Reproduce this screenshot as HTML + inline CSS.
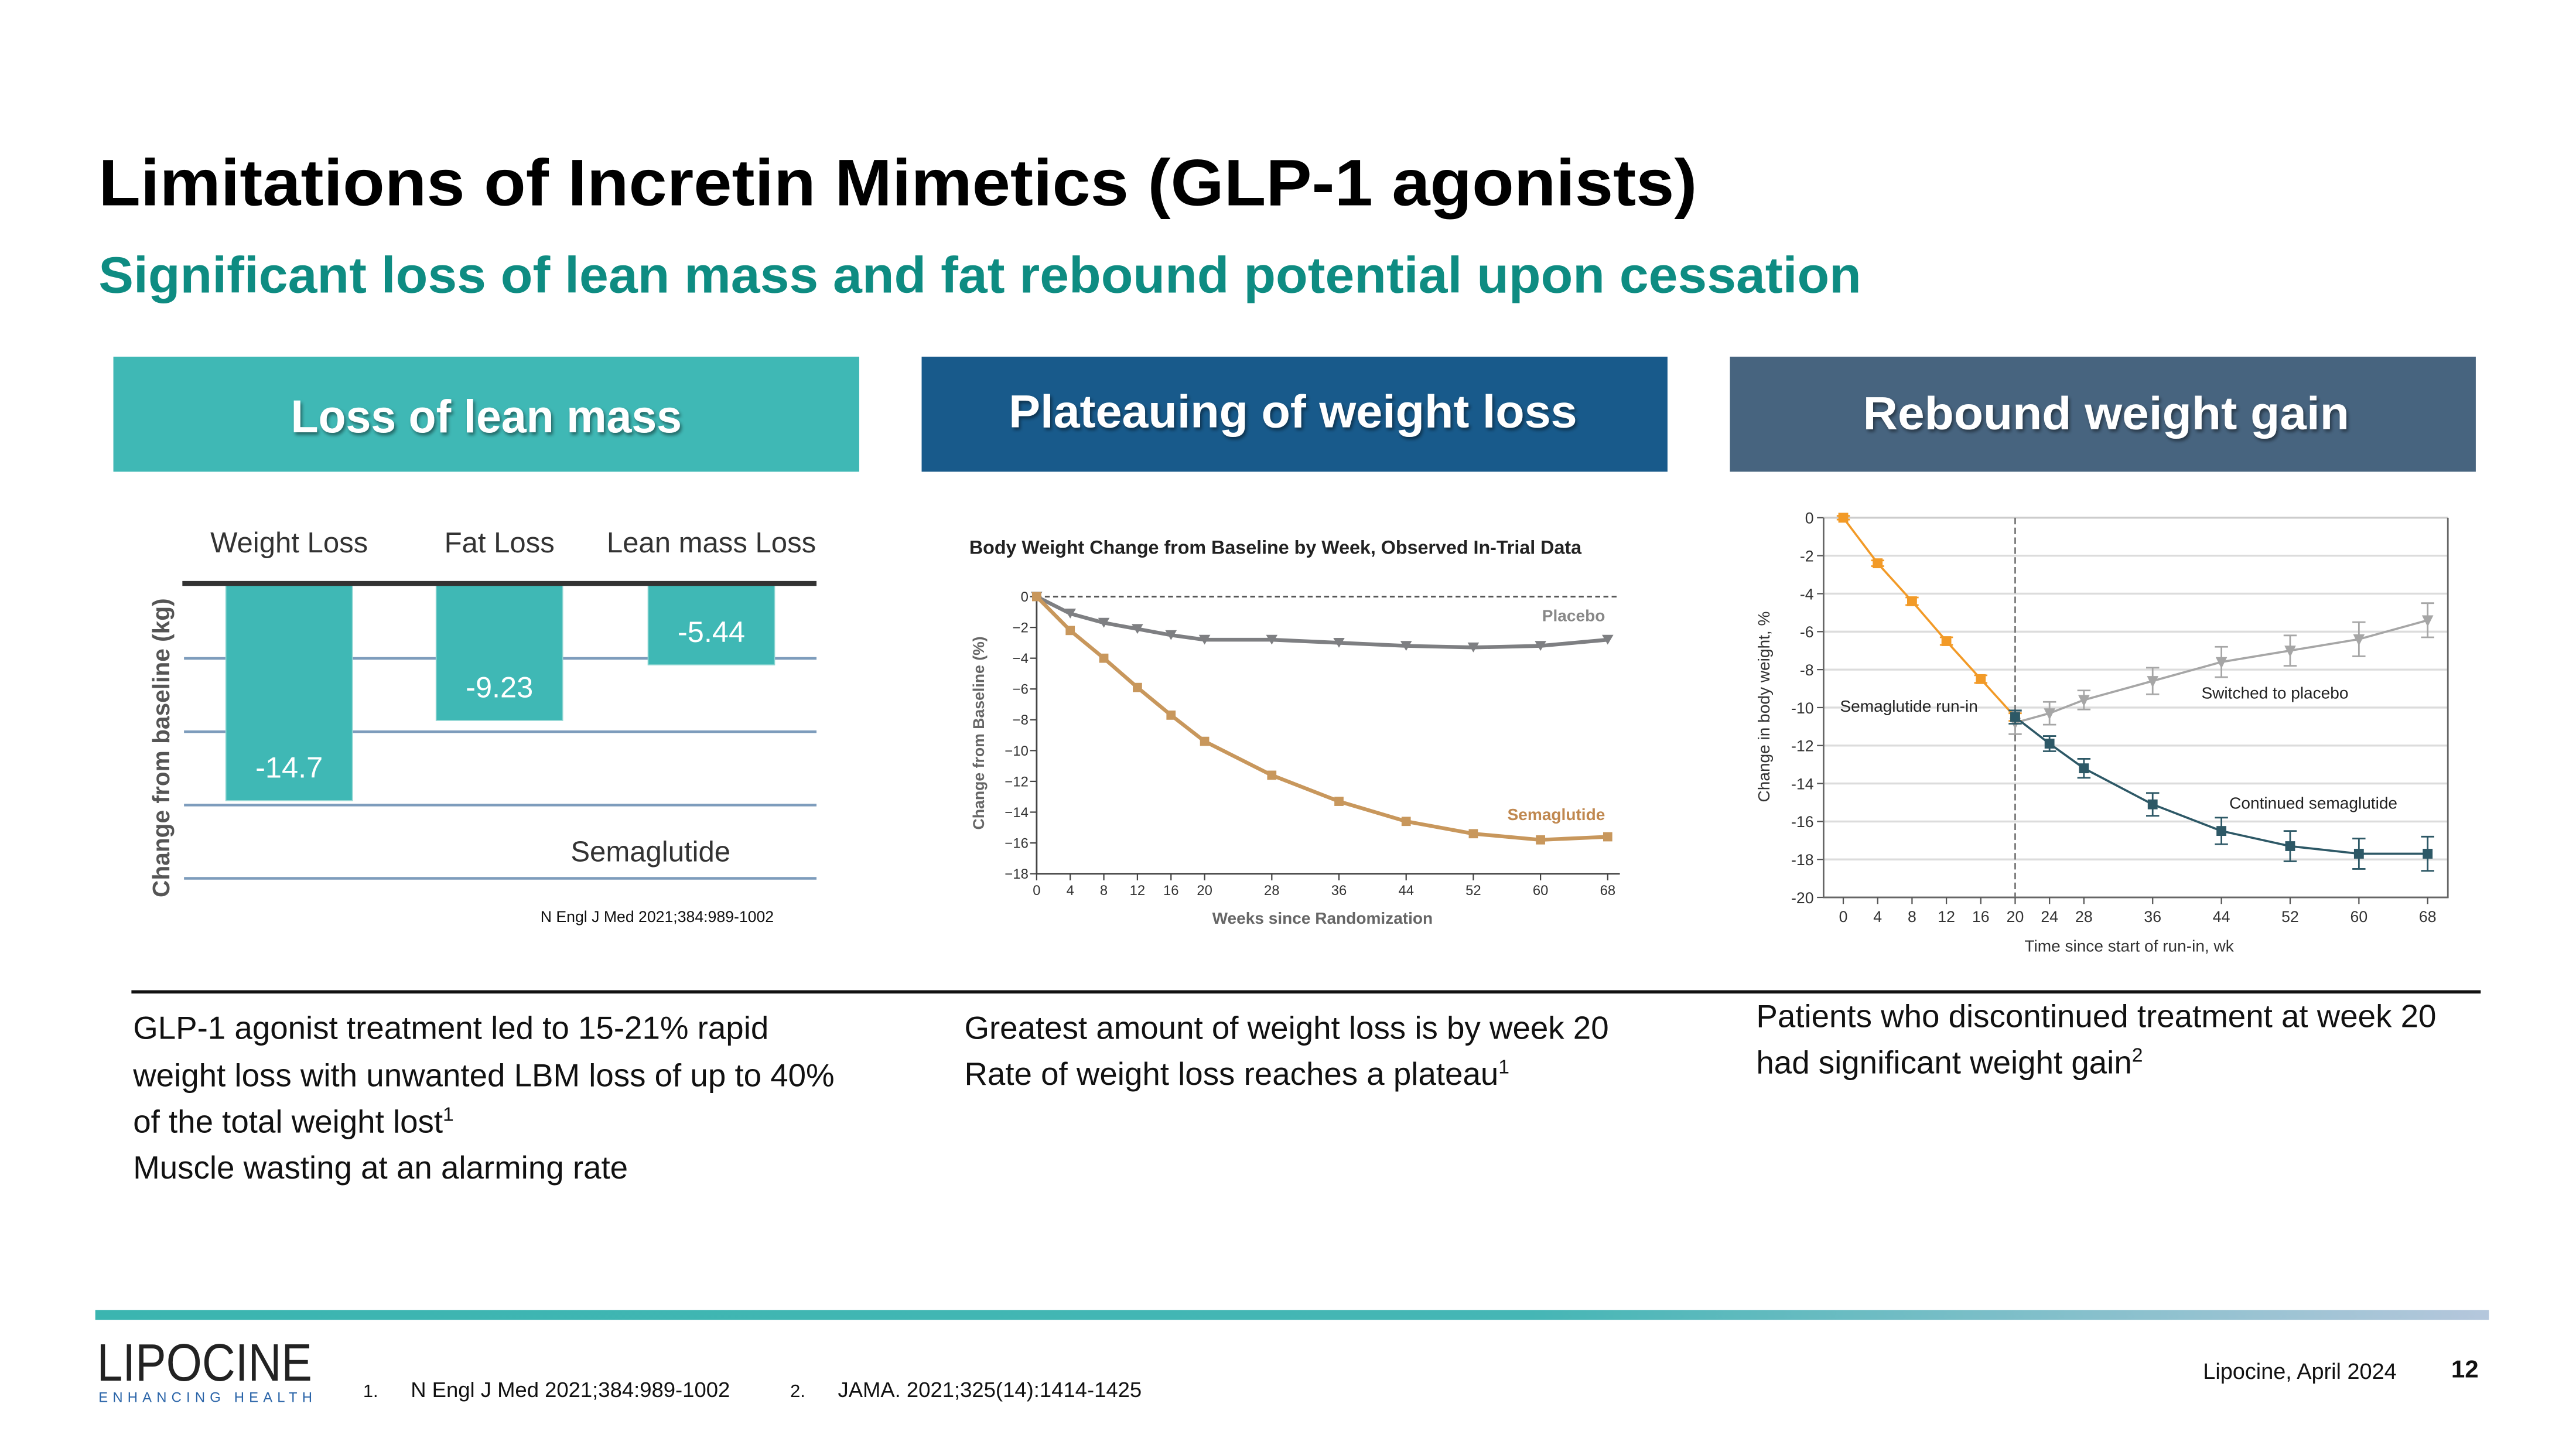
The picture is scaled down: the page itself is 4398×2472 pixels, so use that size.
<!DOCTYPE html>
<html><head><meta charset="utf-8">
<style>
html,body{margin:0;padding:0;background:#fff;}
svg{display:block;font-family:"Liberation Sans",sans-serif;}
</style></head>
<body>
<svg id="slide" width="4398" height="2472" viewBox="0 0 1568 881" preserveAspectRatio="none" xmlns="http://www.w3.org/2000/svg">
<defs>
<linearGradient id="fbar" x1="0" x2="1" y1="0" y2="0"><stop offset="0" stop-color="#3bb5b0"/><stop offset="0.6" stop-color="#45b6b5"/><stop offset="1" stop-color="#b5c7dc"/></linearGradient>
<filter id="sh" x="-5%" y="-20%" width="110%" height="140%"><feDropShadow dx="1" dy="1.5" stdDeviation="1" flood-color="#000" flood-opacity="0.45"/></filter>
</defs>
<text x="60" y="125" font-size="40" font-weight="bold" fill="#000" textLength="973" lengthAdjust="spacingAndGlyphs">Limitations of Incretin Mimetics (GLP-1 agonists)</text>
<text x="60" y="178" font-size="31" font-weight="bold" fill="#0e8c82" textLength="1073" lengthAdjust="spacingAndGlyphs">Significant loss of lean mass and fat rebound potential upon cessation</text>

<rect x="69" y="217" width="454" height="70" fill="#3fb8b5"/>
<text x="296" y="263" font-size="28" font-weight="bold" fill="#fff" text-anchor="middle" filter="url(#sh)" textLength="238" lengthAdjust="spacingAndGlyphs">Loss of lean mass</text>
<rect x="561" y="217" width="454" height="70" fill="#185a8b"/>
<text x="787" y="260" font-size="28" font-weight="bold" fill="#fff" text-anchor="middle" filter="url(#sh)" textLength="346" lengthAdjust="spacingAndGlyphs">Plateauing of weight loss</text>
<rect x="1053" y="217" width="454" height="70" fill="#47647f"/>
<text x="1282" y="261" font-size="28" font-weight="bold" fill="#fff" text-anchor="middle" filter="url(#sh)" textLength="296" lengthAdjust="spacingAndGlyphs">Rebound weight gain</text>

<g id="c1"></g><g id="c2"></g><g id="c3"></g>

<line x1="80" y1="603.5" x2="1510" y2="603.5" stroke="#111" stroke-width="2"/>
<g font-size="19.5" fill="#111">
<text><tspan x="81" y="632">GLP-1 agonist treatment led to 15-21% rapid</tspan><tspan x="81" y="661">weight loss with unwanted LBM loss of up to 40%</tspan><tspan x="81" y="689">of the total weight lost<tspan font-size="12" dy="-7">1</tspan></tspan><tspan x="81" y="717">Muscle wasting at an alarming rate</tspan></text>
<text><tspan x="587" y="632">Greatest amount of weight loss is by week 20</tspan><tspan x="587" y="660">Rate of weight loss reaches a plateau<tspan font-size="12" dy="-7">1</tspan></tspan></text>
<text><tspan x="1069" y="625">Patients who discontinued treatment at week 20</tspan><tspan x="1069" y="653">had significant weight gain<tspan font-size="12" dy="-7">2</tspan></tspan></text>
</g>
<rect x="58" y="797" width="1457" height="6" fill="url(#fbar)"/>
<text x="59" y="840" font-size="32" fill="#222" textLength="131" lengthAdjust="spacingAndGlyphs" font-family="Liberation Sans Narrow, Liberation Sans, sans-serif">LIPOCINE</text>
<text x="60" y="853" font-size="8.5" fill="#2a64a8" textLength="130" lengthAdjust="spacing">ENHANCING HEALTH</text>
<g font-size="13" fill="#111">
<text x="221" y="850"><tspan font-size="11">1.</tspan><tspan x="250">N Engl J Med 2021;384:989-1002</tspan></text>
<text x="481" y="850"><tspan font-size="11">2.</tspan><tspan x="510">JAMA. 2021;325(14):1414-1425</tspan></text>
<text x="1341" y="839" font-size="13.5">Lipocine, April 2024</text>
<text x="1492" y="838" font-size="15" font-weight="bold">12</text>
</g>
</svg>
<script>
const NS="http://www.w3.org/2000/svg";
function mk(p,tag,a,t){const e=document.createElementNS(NS,tag);for(const k in a)e.setAttribute(k,a[k]);if(t!==undefined)e.textContent=t;p.appendChild(e);return e;}

/* ---- Chart 1 data ---- */
const c1Categories=["Weight Loss","Fat Loss","Lean mass Loss"];
const c1Values=[-14.7,-9.23,-5.44];
const c1Labels=["-14.7","-9.23","-5.44"];
const c1Grid=[-5,-10,-15,-20];

/* ---- Chart 2 data ---- */
const c2Weeks=[0,4,8,12,16,20,28,36,44,52,60,68];
const c2Placebo=[0,-1.1,-1.7,-2.1,-2.5,-2.8,-2.8,-3.0,-3.2,-3.3,-3.2,-2.8];
const c2Sema=[0,-2.2,-4.0,-5.9,-7.7,-9.4,-11.6,-13.3,-14.6,-15.4,-15.8,-15.6];
const c2YTicks=[0,-2,-4,-6,-8,-10,-12,-14,-16,-18];

/* ---- Chart 3 data ---- */
const c3RunWeeks=[0,4,8,12,16,20];
const c3RunVals=[0,-2.4,-4.4,-6.5,-8.5,-10.5];
const c3RunErr=[0.1,0.15,0.2,0.2,0.2,0.2];
const c3PostWeeks=[20,24,28,36,44,52,60,68];
const c3Placebo=[-10.8,-10.3,-9.6,-8.6,-7.6,-7.0,-6.4,-5.4];
const c3PlaceboErr=[0.6,0.6,0.5,0.7,0.8,0.8,0.9,0.9];
const c3Cont=[-10.5,-11.9,-13.2,-15.1,-16.5,-17.3,-17.7,-17.7];
const c3ContErr=[0.35,0.4,0.5,0.6,0.7,0.8,0.8,0.9];
const c3YTicks=[0,-2,-4,-6,-8,-10,-12,-14,-16,-18,-20];
const c3XTicks=[0,4,8,12,16,20,24,28,36,44,52,60,68];

/* ===== Chart 1 ===== */
(function(){
const g=document.getElementById('c1');
const y=v=>356-v*8.92;
const cx=[176,304,433];
let e;
for(const gv of c1Grid){
 e=mk(g,'line',{x1:112,x2:497,y1:y(gv),y2:y(gv),stroke:'#7d9cbc','stroke-width':1.6});
 
 
}
c1Values.forEach((v,i)=>{
 e=mk(g,'rect',{x:cx[i]-38.5,y:356,width:77,height:y(v)-356,fill:'#3fb8b5',stroke:'#8fd6d3','stroke-width':0.6});
 
 
 e=mk(g,'text',{x:cx[i],y:y(v)-14,'font-size':18,fill:'#fff','text-anchor':'middle'},c1Labels[i]);
 
 
 e=mk(g,'text',{x:cx[i],y:336,'font-size':17.5,fill:'#333','text-anchor':'middle'},c1Categories[i]);
 
 
});
e=mk(g,'line',{x1:111,x2:497,y1:355,y2:355,stroke:'#333','stroke-width':3});


e=mk(g,'text',{x:0,y:0,'font-size':14.5,'font-weight':'bold',fill:'#555','text-anchor':'middle',transform:'translate(103,455) rotate(-90)'},'Change from baseline (kg)');


e=mk(g,'text',{x:396,y:524,'font-size':17.5,fill:'#333','text-anchor':'middle'},'Semaglutide');


e=mk(g,'text',{x:400,y:561,'font-size':9.5,fill:'#111','text-anchor':'middle'},'N Engl J Med 2021;384:989-1002');


})();

/* ===== Chart 2 ===== */
(function(){
const g=document.getElementById('c2');
const x=w=>631+w*(347.6/68);
const y=v=>363-v*(168.6/18);
let e;
e=mk(g,'text',{x:590,y:337,'font-size':11.5,'font-weight':'bold',fill:'#222'},'Body Weight Change from Baseline by Week, Observed In-Trial Data');


e=mk(g,'line',{x1:631,x2:986,y1:y(0),y2:y(0),stroke:'#555','stroke-width':1,'stroke-dasharray':'3,2'});


e=mk(g,'path',{d:`M631,${y(0)}V${y(-18)}H986`,fill:'none',stroke:'#444','stroke-width':1});


for(const t of c2YTicks){
 e=mk(g,'line',{x1:627,x2:631,y1:y(t),y2:y(t),stroke:'#444','stroke-width':0.8});
 
 
 e=mk(g,'text',{x:626,y:y(t)+3,'font-size':8.5,fill:'#333','text-anchor':'end'},t===0?'0':'\u2212'+(-t));
 
 
}
for(const w of c2Weeks){
 e=mk(g,'line',{x1:x(w),x2:x(w),y1:y(-18),y2:y(-18)+4,stroke:'#444','stroke-width':0.8});
 
 
 e=mk(g,'text',{x:x(w),y:y(-18)+13,'font-size':8.5,fill:'#333','text-anchor':'middle'},String(w));
 
 
}
e=mk(g,'text',{x:0,y:0,'font-size':9.5,'font-weight':'bold',fill:'#666','text-anchor':'middle',transform:'translate(599,446) rotate(-90)'},'Change from Baseline (%)');


e=mk(g,'text',{x:805,y:562,'font-size':10,'font-weight':'bold',fill:'#666','text-anchor':'middle'},'Weeks since Randomization');


e=mk(g,'polyline',{points:c2Weeks.map((w,i)=>x(w)+','+y(c2Placebo[i])).join(' '),fill:'none',stroke:'#7e7f82','stroke-width':2.3});


e=mk(g,'polyline',{points:c2Weeks.map((w,i)=>x(w)+','+y(c2Sema[i])).join(' '),fill:'none',stroke:'#c8975c','stroke-width':2.3});


c2Weeks.forEach((w,i)=>{
 const px=x(w),py=y(c2Placebo[i]);
 e=mk(g,'path',{d:`M${px-3.5},${py-3}H${px+3.5}L${px},${py+3}Z`,fill:'#7e7f82'});
 
 
 e=mk(g,'rect',{x:x(w)-2.8,y:y(c2Sema[i])-2.8,width:5.6,height:5.6,fill:'#c8975c'});
 
 
});
e=mk(g,'text',{x:977,y:378,'font-size':10,'font-weight':'bold',fill:'#888','text-anchor':'end'},'Placebo');


e=mk(g,'text',{x:977,y:499,'font-size':10,'font-weight':'bold',fill:'#c08850','text-anchor':'end'},'Semaglutide');


})();

/* ===== Chart 3 ===== */
(function(){
const g=document.getElementById('c3');
const x=w=>1122+w*(355.7/68);
const y=v=>315-v*(231/20);
let e;
for(const t of c3YTicks){
 e=mk(g,'line',{x1:1110,x2:1490,y1:y(t),y2:y(t),stroke:t===0?'#ccc':'#dcdcdc','stroke-width':1.2});
 
 
 e=mk(g,'line',{x1:1106,x2:1110,y1:y(t),y2:y(t),stroke:'#555','stroke-width':0.8});
 
 
 e=mk(g,'text',{x:1104,y:y(t)+3.5,'font-size':9.5,fill:'#333','text-anchor':'end'},String(t));
 
 
}
e=mk(g,'path',{d:`M1110,${y(0)}V${y(-20)}H1490V${y(0)}`,fill:'none',stroke:'#666','stroke-width':1});


for(const w of c3XTicks){
 e=mk(g,'line',{x1:x(w),x2:x(w),y1:y(-20),y2:y(-20)+4,stroke:'#555','stroke-width':0.8});
 
 
 e=mk(g,'text',{x:x(w),y:y(-20)+15,'font-size':9.5,fill:'#333','text-anchor':'middle'},String(w));
 
 
}
e=mk(g,'line',{x1:x(20),x2:x(20),y1:y(0),y2:y(-20),stroke:'#777','stroke-width':1,'stroke-dasharray':'4,2'});


e=mk(g,'text',{x:0,y:0,'font-size':10,fill:'#333','text-anchor':'middle',transform:'translate(1077,430) rotate(-90)'},'Change in body weight, %');


e=mk(g,'text',{x:1296,y:579,'font-size':10,fill:'#333','text-anchor':'middle'},'Time since start of run-in, wk');


function series(weeks,vals,errs,color,marker,name){
 e=mk(g,'polyline',{points:weeks.map((w,i)=>x(w)+','+y(vals[i])).join(' '),fill:'none',stroke:color,'stroke-width':1.3});
 
 
 weeks.forEach((w,i)=>{
  const px=x(w),py=y(vals[i]),t=y(vals[i]+errs[i]),b=y(vals[i]-errs[i]);
  e=mk(g,'path',{d:`M${px},${t}V${b}M${px-4},${t}H${px+4}M${px-4},${b}H${px+4}`,stroke:color,'stroke-width':1,fill:'none'});
  
  
  if(marker==='sq'){e=mk(g,'rect',{x:px-3,y:py-3,width:6,height:6,fill:color});}
  else{e=mk(g,'path',{d:`M${px-3.5},${py-3}H${px+3.5}L${px},${py+4}Z`,fill:color});}
  
  
 });
}
series(c3PostWeeks,c3Placebo,c3PlaceboErr,'#a6a6a6','tri','switched-placebo');
series(c3RunWeeks,c3RunVals,c3RunErr,'#f29a27','sq','run-in');
series(c3PostWeeks,c3Cont,c3ContErr,'#2d5866','sq','continued-semaglutide');
e=mk(g,'text',{x:1120,y:433,'font-size':10,fill:'#222'},'Semaglutide run-in');


e=mk(g,'text',{x:1340,y:425,'font-size':10,fill:'#222'},'Switched to placebo');


e=mk(g,'text',{x:1357,y:492,'font-size':10,fill:'#222'},'Continued semaglutide');


})();
</script>
</body></html>
